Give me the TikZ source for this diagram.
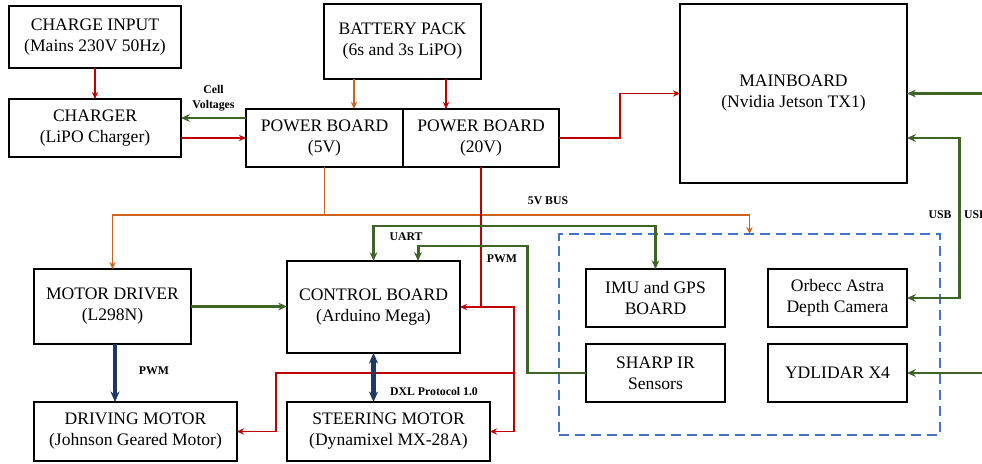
\documentclass[tikz,border=0pt]{standalone}
\usepackage{fontspec}
\setmainfont{Liberation Serif}
\usetikzlibrary{positioning, arrows.meta}

\definecolor{pwrred}{RGB}{192,0,0}
\definecolor{siggreen}{RGB}{62,100,40}
\definecolor{busorange}{RGB}{205,100,30}
\definecolor{dxlblue}{RGB}{31,56,100}
\definecolor{grpblue}{RGB}{68,114,196}

\begin{document}
\begin{tikzpicture}[
        box/.style={rectangle, draw=black, line width=1.4pt, outer sep=0pt, minimum width=3.14cm, minimum height=1.16cm, align=center, font=\fontsize{10}{12}\selectfont},
        lbl/.style={font=\fontsize{6.7}{8.5}\selectfont\bfseries, align=center, inner sep=1pt},
        rarrow/.style={->, >={Stealth[length=4pt, width=3.6pt]}, draw=pwrred, line width=1.1pt},
        oarrow/.style={->, >={Stealth[length=4pt, width=3.6pt]}, draw=busorange, line width=1pt},
        garrow/.style={->, >={Stealth[length=5pt, width=4.4pt]}, draw=siggreen, line width=1.7pt},
        barrow/.style={->, >={Stealth[length=6pt, width=5.2pt]}, draw=dxlblue, line width=2.3pt}
    ]
    \useasboundingbox (0,0) rectangle (19.64,9.26);

    % power input side
    \node[box, minimum width=3.44cm, minimum height=1.24cm] (chin) at (1.90,8.52) {CHARGE INPUT\\(Mains 230V 50Hz)};
    \node[box, minimum width=3.44cm, below=0.62cm of chin] (chg) {CHARGER\\(LiPO Charger)};
    \node[box, minimum height=1.50cm] (batt) at (8.05,8.43) {BATTERY PACK\\(6s and 3s LiPO)};
    \node[box] (pb5) at (6.49,6.50) {POWER BOARD\\(5V)};
    \node[box, minimum width=3.12cm, right=0cm of pb5] (pb20) {POWER BOARD\\(20V)};
    \node[box, minimum width=4.54cm, minimum height=3.58cm] (main) at (15.87,7.39) {MAINBOARD\\(Nvidia Jetson TX1)};

    % motors and control
    \node[box, minimum height=1.50cm] (md) at (2.25,3.13) {MOTOR DRIVER\\(L298N)};
    \node[box, minimum width=3.46cm, minimum height=1.84cm] (cb) at (7.47,3.12) {CONTROL BOARD\\(Arduino Mega)};
    \node[box, minimum width=4.06cm, minimum height=1.18cm, below=1.16cm of md.south west, anchor=north west] (drive) {DRIVING MOTOR\\(Johnson Geared Motor)};
    \node[box, minimum width=4.06cm, minimum height=1.18cm, below=0.98cm of cb.south west, anchor=north west] (steer) {STEERING MOTOR\\(Dynamixel MX-28A)};

    % sensor group
    \node[draw=grpblue, line width=0.85pt, dash pattern=on 5.7pt off 3.4pt, minimum width=7.62cm, minimum height=4.02cm, outer sep=0pt] (sens) at (14.99,2.57) {};
    \node[box, minimum width=2.78cm] (imu) at (13.11,3.30) {IMU and GPS\\BOARD};
    \node[box, minimum width=2.78cm, below=0.34cm of imu] (sharp) {SHARP IR\\Sensors};
    \node[box, minimum width=2.78cm, right=0.86cm of imu] (orb) {Orbecc Astra\\Depth Camera};
    \node[box, minimum width=2.78cm, below=0.34cm of orb] (lidar) {YDLIDAR X4};

    % helper points
    \coordinate (cv) at ([yshift=0.2cm]chg.east);
    \coordinate (bo) at ([xshift=-0.97cm]batt.south);
    \coordinate (br) at ([xshift=0.87cm]batt.south);
    \coordinate (mdo) at ([xshift=0.05cm]md.south);
    \coordinate (rim) at (19.9,0);

    % power lines
    \draw[rarrow] (chin.south) -- (chg.north);
    \draw[garrow] (cv -| pb5.west) -- (cv) node[midway, above=2pt, lbl] (cell) {Cell\\Voltages};
    \draw[rarrow] (pb5.west -| chg.east) -- (pb5.west);
    \draw[oarrow] (bo) -- (bo |- pb5.north);
    \draw[rarrow] (br) -- (br |- pb20.north);
    \draw[rarrow] (pb20.east) -- ++(1.22cm,0) |- (main.west);
    \draw[oarrow, -] (pb5.south) -- ++(0,-0.96cm) coordinate (bus);
    \draw[oarrow] (bus) -| (md.north);
    \draw[oarrow] (bus) -| (sens.north);
    \draw[rarrow] (pb20.south) |- (cb.east);
    \draw[rarrow] (pb20.south |- cb.east) -- ++(0.66cm,0) coordinate (rj) |- (steer.east);
    \draw[rarrow] (rj |- sharp.west) -- ++(-4.76cm,0) |- (drive.east);

    % signal lines
    \draw[garrow, <->] (cb.north) -- ++(0,0.7cm) -| (imu.north);
    \draw[garrow] (sharp.west) -- ++(-1.18cm,0) -- ++(0,2.54cm) -| ([xshift=0.89cm]cb.north);
    \draw[garrow] (md.east) -- (md.east -| cb.west);
    \draw[barrow] (mdo) -- (mdo |- drive.north);
    \draw[barrow, <->] (cb.south) -- (cb.south |- steer.north);
    \draw[garrow] (main.east -| rim) -- (main.east);
    \draw[garrow, <->] (orb.east) -- ++(1.04cm,0) |- ([yshift=-0.89cm]main.east);
    \draw[garrow] (lidar.east -| rim) -- (lidar.east);

    % labels
    \node[lbl] (busl) at (10.96,5.24) {5V BUS};
    \node[lbl] (uartl) at (8.12,4.52) {UART};
    \node[lbl] (pwmr) at (10.04,4.08) {PWM};
    \node[lbl] (pwmd) at (3.08,1.84) {PWM};
    \node[lbl] (dxll) at (8.68,1.44) {DXL Protocol 1.0};
    \node[lbl] (usba) at (18.80,4.96) {USB};
    \node[lbl, anchor=west] (usbb) at (19.24,4.96) {USB};

\end{tikzpicture}
\end{document}
